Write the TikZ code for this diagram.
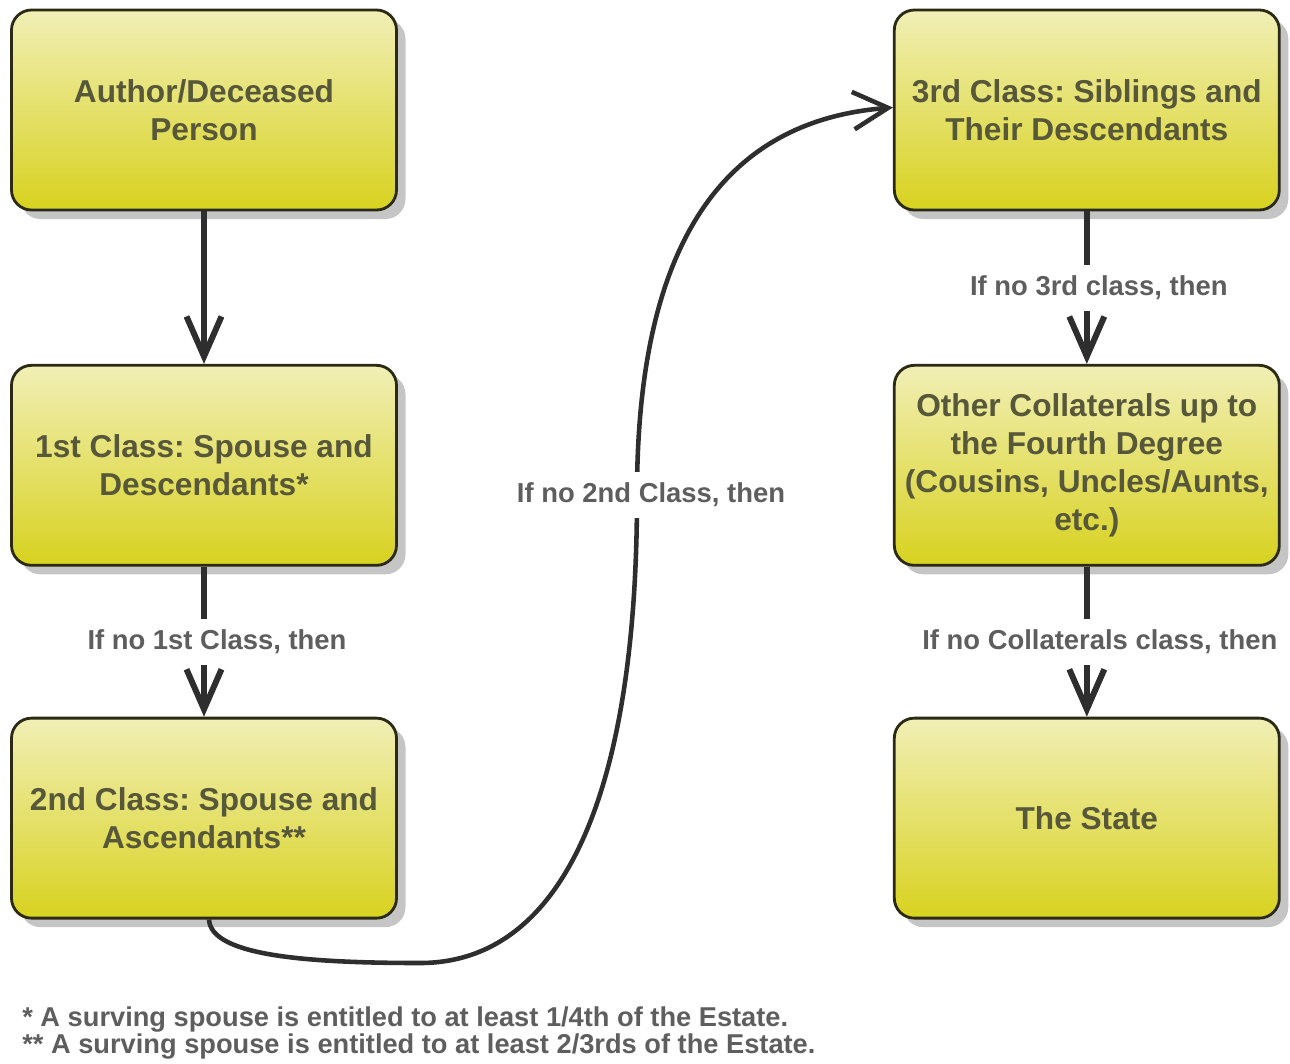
\documentclass[tikz,border=0pt]{standalone}
\usepackage{fontspec}
\setmainfont{Liberation Sans}
\usetikzlibrary{positioning,arrows.meta,shadows}

\definecolor{boxtop}{HTML}{F1EFB6}
\definecolor{boxmid}{HTML}{E6E36C}
\definecolor{boxbot}{HTML}{D8D21F}
\definecolor{boxline}{HTML}{2B2A14}
\definecolor{boxtext}{HTML}{57573A}
\definecolor{lbltext}{HTML}{5E5E5E}
\definecolor{arrline}{HTML}{2E2E2E}

\frenchspacing
\begin{document}
\begin{tikzpicture}[
    every node/.style={font=\fontsize{18}{21.5}\selectfont\bfseries},
    blk/.style={rectangle, rounded corners=0.4cm, draw=boxline, line width=1.6pt,
                top color=boxtop, middle color=boxmid, bottom color=boxbot,
                minimum width=7.7cm, minimum height=4cm, align=center,
                text=boxtext,
                drop shadow={shadow xshift=0.18cm, shadow yshift=-0.18cm,
                             fill=black!45, opacity=0.5}},
    lbl/.style={fill=white, inner xsep=2pt, inner ysep=0.22cm, text=lbltext,
                font=\fontsize{15.6}{18}\selectfont\bfseries},
    note/.style={inner sep=0pt, align=left, text=lbltext,
                 font=\fontsize{15.5}{15.6}\selectfont\bfseries},
    arr/.style={-{Straight Barb[length=0.8cm, width=0.7cm]}, arrline,
                line width=3.4pt},
    carr/.style={-{Straight Barb[length=0.7cm, width=0.75cm]}, arrline,
                 line width=2.6pt},
]
    \useasboundingbox (0,0) rectangle (25.8,-21.26);
    %% left column
    \node[blk] (auth) at (4.08,-2.2) {Author/Deceased\\Person};
    \node[blk, below=3.05cm of auth] (cls1) {1st Class: Spouse and\\Descendants*};
    \node[blk, below=3.0cm of cls1] (cls2) {2nd Class: Spouse and\\Ascendants**};
    %% right column
    \node[blk, right=9.9cm of auth] (cls3) {3rd Class: Siblings and\\Their Descendants};
    \node[blk, below=3.05cm of cls3] (coll)
        {Other Collaterals up to\\the Fourth Degree\\(Cousins, Uncles/Aunts,\\etc.)};
    \node[blk, below=3.0cm of coll] (state) {The State};
    %% straight links
    \draw[arr] (auth) -- (cls1);
    \draw[arr] (cls1) -- node[lbl, xshift=0.26cm]{If no 1st Class, then} (cls2);
    \draw[arr] (cls3) -- node[lbl, xshift=0.24cm]{If no 3rd class, then} (coll);
    \draw[arr] (coll) -- node[lbl, xshift=0.26cm]{If no Collaterals class, then} (state);
    %% curved link from 2nd class to 3rd class
    \coordinate (dip) at (8.4,-19.26);
    \coordinate (turn) at (12.74,-9.9);
    \draw[carr] ([xshift=1mm]cls2.south) .. controls +(0.04,-0.7) and +(-2.4,0) .. (dip)
        .. controls +(2.8,0) and +(0,-6.1) .. (turn)
        node[lbl, xshift=0.28cm]{If no 2nd Class, then}
        .. controls +(0,4.3) and +(-3.86,-0.3) .. ([yshift=0.05cm]cls3.west);
    %% footnotes
    \node[note, anchor=north west] (fnote) at (0.44,-20.12)
        {* A surving spouse is entitled to at least 1/4th of the Estate.\\
         ** A surving spouse is entitled to at least 2/3rds of the Estate.};
\end{tikzpicture}
\end{document}
